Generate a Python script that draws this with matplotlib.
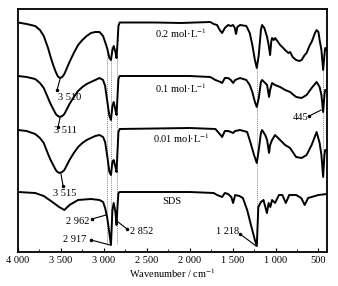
import matplotlib
matplotlib.use("Agg")
import matplotlib.pyplot as plt
from matplotlib.ticker import MultipleLocator, FuncFormatter

plt.rcParams['font.family'] = ['Liberation Serif', 'DejaVu Serif']
plt.rcParams['mathtext.fontset'] = 'stix'

# ---- data: wavenumber (cm^-1) and offset transmittance (a.u.) ----
wn_02 = [4000, 3900, 3800, 3744, 3700, 3650, 3620, 3590, 3560, 3535, 3510, 3485, 3460, 3430,
         3400, 3350, 3300, 3250, 3200, 3150, 3100, 3050,
         3009, 2985, 2962, 2935, 2917, 2900, 2885, 2865, 2852, 2840, 2830, 2815, 2400, 2100,
         1760, 1720, 1681, 1650, 1622, 1590, 1552, 1520, 1494, 1475, 1460, 1445, 1413, 1340,
         1300, 1270, 1240, 1218, 1195, 1170, 1156, 1130, 1098, 1080, 1063, 1050, 1040, 1020,
         1005, 970, 946, 910, 888, 850, 830, 800, 760, 720, 696, 660, 638, 600, 579, 540, 521,
         500, 486, 465, 445, 430, 421, 400]
t_02 = [229.5, 228, 226, 222, 216, 204, 195, 187, 180, 175.5, 174, 175, 178, 184,
        190, 199, 207, 212, 216, 219, 220, 220,
        216, 210, 204, 194, 192, 202, 206, 200, 194, 210, 226, 229.5, 229.5, 229,
        230, 228, 227, 222, 219, 224, 227, 226, 227, 224, 218, 225, 227, 226,
        219, 207, 192, 184, 197, 222, 227, 224, 215, 207, 197, 210, 214, 212,
        214, 210, 207, 204, 202, 199, 200, 195, 192, 191, 192, 197, 199, 207, 210, 219, 222,
        220, 212, 202, 182, 197, 204, 202]

wn_01 = [4000, 3900, 3800, 3744, 3700, 3650, 3620, 3590, 3560, 3535, 3510, 3485, 3460, 3430,
         3400, 3350, 3300, 3250, 3200, 3150, 3100, 3050,
         3009, 2985, 2962, 2935, 2917, 2900, 2885, 2865, 2852, 2840, 2830, 2815, 2000, 1760,
         1700, 1640, 1622, 1590, 1552, 1520, 1494, 1470, 1413, 1340, 1300, 1270, 1240, 1218,
         1195, 1170, 1156, 1120, 1098, 1075, 1063, 1040, 1005, 946, 888, 830, 760, 696, 638,
         579, 521, 486, 465, 445, 430, 421, 400]
t_01 = [176, 175, 173, 169, 164, 154, 148, 143, 138, 136, 135, 136, 138, 143,
        148, 155, 161, 165, 168, 170, 172, 174,
        172, 166, 152, 136, 132, 146, 150, 142, 137, 157, 173, 176, 176, 175,
        172, 170, 169, 174, 174, 172, 169, 172, 174, 172, 167, 160, 150, 145,
        154, 170, 172, 169, 167, 155, 162, 169, 167, 165, 162, 160, 155, 154, 157,
        164, 170, 165, 157, 140, 157, 162, 162]

wn_001 = [4000, 3900, 3800, 3744, 3700, 3650, 3620, 3590, 3560, 3540, 3515, 3485, 3460, 3430,
          3400, 3350, 3300, 3250, 3200, 3150, 3100, 3050,
          3009, 2985, 2962, 2935, 2917, 2900, 2885, 2865, 2852, 2840, 2830, 2815, 2000, 1700,
          1640, 1622, 1590, 1552, 1520, 1494, 1470, 1413, 1330, 1290, 1250, 1218, 1195, 1170,
          1156, 1120, 1098, 1075, 1063, 1040, 1005, 946, 888, 830, 760, 696, 638, 579, 521,
          486, 465, 445, 430, 421, 400]
t_001 = [122, 121, 118, 114, 109, 98, 92, 87, 82, 80, 79, 80, 82, 87,
         92, 99, 105, 109, 112, 114, 116, 117,
         115, 110, 97, 80, 77, 90, 92, 85, 80, 102, 120, 123, 124, 123,
         117, 115, 121, 121, 120, 119, 121, 122, 120, 109, 97, 89, 102, 119,
         122, 117, 112, 99, 107, 112, 117, 112, 107, 104, 95, 94, 97, 107, 120,
         109, 97, 75, 97, 102, 102]

wn_sds = [4000, 3800, 3700, 3600, 3520, 3460, 3400, 3300, 3150, 3050, 3009, 2985, 2962, 2940,
          2917, 2900, 2885, 2865, 2852, 2840, 2830, 2815, 2000, 1720, 1680, 1622, 1590, 1552,
          1515, 1494, 1470, 1420, 1380, 1330, 1280, 1240, 1218, 1200, 1170, 1140, 1100, 1080,
          1060, 1040, 1005, 960, 920, 880, 840, 760, 700, 660, 620, 580, 500, 400]
t_sds = [60, 59, 56, 50, 45, 42, 47, 52, 53, 52, 50, 44, 35, 22,
         7, 42, 49, 40, 27, 47, 59, 60, 60, 59, 57, 55, 59, 58,
         55, 49, 57, 56, 54, 42, 25, 12, 6, 45, 50, 52, 39, 49,
         45, 52, 49, 57, 57, 49, 57, 57, 54, 47, 54, 55, 57, 58]

series = [(wn_02, t_02), (wn_01, t_01), (wn_001, t_001), (wn_sds, t_sds)]
series_labels = ['0.2 mol·L$^{-1}$', '0.1 mol·L$^{-1}$', '0.01 mol·L$^{-1}$', 'SDS']
marked_bands = [2962, 2917, 2852, 1218, 445]
xticks = [4000, 3500, 3000, 2500, 2000, 1500, 1000, 500]

# ---- figure ----
fig = plt.figure(figsize=(3.38, 2.86), dpi=100)
ax = fig.add_axes([18/338, 34/286, 309/338, 243/286])

# dotted guide lines
guide_spans = {2962: (8, 205), 2917: (8, 205), 2852: (8, 205), 1218: (6, 184), 445: (75, 182)}
for b in marked_bands:
    lo, hi = guide_spans[b]
    ax.plot([b, b], [lo, hi], color='#888888', lw=0.7, ls=(0, (1, 1)), zorder=1)

for wn, t in series:
    ax.plot(wn, t, color='black', lw=1.4, solid_joinstyle='round', zorder=3)

label_pos = [(2100, 219), (2100, 164), (2100, 114), (2205, 51)]
for lab, (x, y) in zip(series_labels, label_pos):
    ax.text(x, y, lab, fontsize=7.5, ha='center', va='center')

# peak annotations: text, line start, line end
annots = [
    ('3 510', (3394, 155), (3545, 162), (3510, 173)),
    ('3 511', (3452, 121.5), (3534, 125), (3510, 134)),
    ('3 515', (3452, 58), (3475, 66), (3499, 78)),
    ('2 962', (3301, 31), (3138, 33), (2974, 37)),
    ('2 917', (3336, 12), (3149, 12), (2928, 7)),
    ('2 852', (2555, 20), (2730, 23), (2834, 30)),
    ('1 218', (1564, 20), (1413, 18), (1226, 6)),
    ('445', (713, 134), (608, 136), (468, 142)),
]
for txt, (tx, ty), (x0, y0), (x1, y1) in annots:
    ax.text(tx, ty, txt, fontsize=7.5, ha='center', va='center', zorder=4)
    ax.plot([x0, x1], [y0, y1], color='black', lw=0.8, zorder=4)
    ax.plot([x0], [y0], marker='o', ms=1.5, color='black', zorder=4)

ax.set_xlim(4000, 400)
ax.set_ylim(0, 243)
ax.set_xticks(xticks)
ax.xaxis.set_minor_locator(MultipleLocator(250))
ax.xaxis.set_major_formatter(FuncFormatter(lambda v, p: f"{int(v):,}".replace(",", " ")))
ax.set_yticks([])
ax.tick_params(axis='x', direction='in', length=3, width=0.8, labelsize=7.5, pad=3)
ax.tick_params(axis='x', which='minor', direction='in', length=2, width=0.6)
for s in ax.spines.values():
    s.set_linewidth(1.3)
ax.set_xlabel('Wavenumber / cm$^{-1}$', fontsize=7.5, labelpad=1)

fig.savefig('out.png', dpi=100)
